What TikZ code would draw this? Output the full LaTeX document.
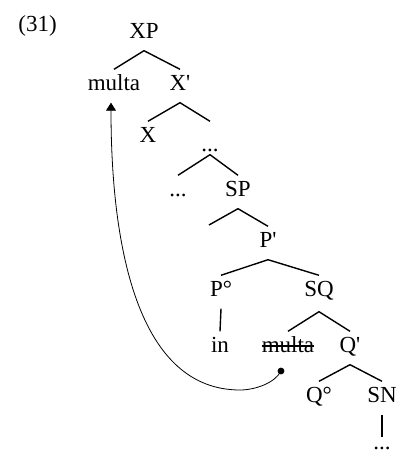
\documentclass[tikz,border=0pt]{standalone}
\usepackage{fontspec}
\setmainfont{Liberation Serif}
\usetikzlibrary{arrows.meta}
\begin{document}
\begin{tikzpicture}[x=1pt,y=1pt,
  lab/.style={anchor=base, inner sep=0pt, text height=21.5pt, text depth=11.5pt, font=\fontsize{23}{27}\selectfont},
  br/.style={line width=1.4pt},
  mv/.style={line width=0.8pt, -{Triangle[length=8pt,width=10pt]}},
  strike/.style={line width=1.2pt}]
\useasboundingbox (0,0) rectangle (396,456);
% labels
\node[lab] (n31) at (37.5,424) {(31)};
\node[lab] (XP) at (144,417) {XP};
\node[lab] (multa) at (114,365) {multa};
\node[lab] (Xb) at (180,365) {X\textquotesingle};
\node[lab] (X) at (148,313) {X};
\node[lab] (d1) at (210,313) {\raisebox{-9pt}{...}};
\node[lab] (d2) at (178,259) {...};
\node[lab] (SP) at (238,259) {SP};
\coordinate (e1) at (209,231);
\node[lab] (Pb) at (268,208) {P\textquotesingle};
\node[lab] (Po) at (221,159) {P°};
\node[lab] (SQ) at (319,159) {SQ};
\node[lab] (in) at (220,103) {in};
\node[lab] (m2) at (288,103) {multa};
\node[lab] (Qb) at (350,103) {Q\textquotesingle};
\node[lab] (Qo) at (319,53) {Q°};
\node[lab] (SN) at (382,53) {SN};
\node[lab] (d3) at (382,6) {...};
% branches
\draw[br] (multa.north) -- (XP.south) -- (Xb.north);
\draw[br] (X.north) -- (Xb.south) -- (d1.north);
\draw[br] (d2.north) -- (d1.south) -- (SP.north);
\draw[br] (e1) -- (SP.south) -- (Pb.north);
\draw[br] (Po.north) -- (Pb.south) -- (SQ.north);
\draw[br] (Po.south) -- (in.north);
\draw[br] (m2.north) -- ([yshift=-3pt]SQ.south) -- (Qb.north);
\draw[br] (Qo.north) -- (Qb.south) -- (SN.north);
\draw[br] (SN.south) -- ([yshift=-8.5pt]d3.north);
% strike-through
\draw[strike] ([yshift=7pt]m2.base west) -- ([yshift=7pt]m2.base east);
% movement arrow
\coordinate (dot) at ([shift={(-7pt,-18pt)}]m2.base);
\fill (dot) circle (3.4pt);
\draw[mv] (dot) .. controls (275,73) and (255,66) .. (240,66)
  .. controls (140,66) and (111,203) .. ([xshift=-3pt]multa.south);
\end{tikzpicture}
\end{document}
